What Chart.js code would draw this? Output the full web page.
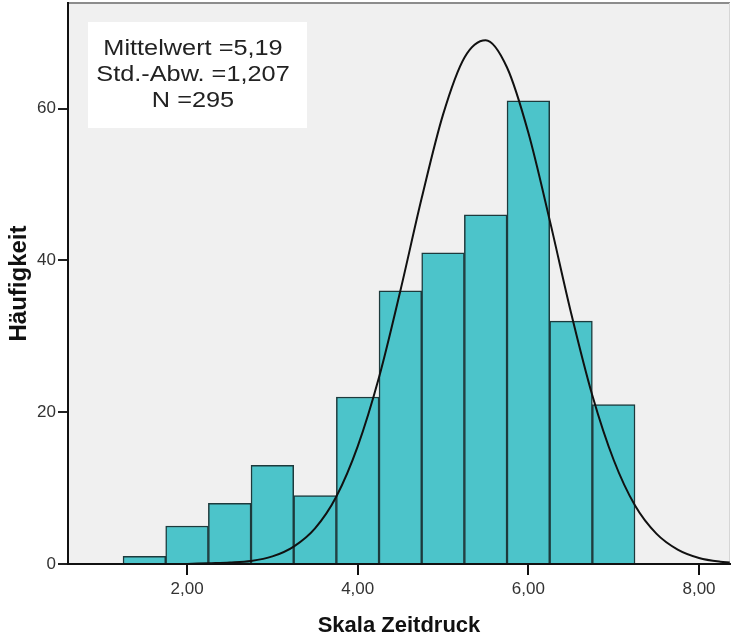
<!DOCTYPE html>
<html>
<head>
<meta charset="utf-8">
<script src="https://cdn.jsdelivr.net/npm/chart.js@4/dist/chart.umd.min.js"></script>
<style>
  html, body { margin: 0; padding: 0; background: #fff; }
  #wrap { width: 732px; height: 637px; }
</style>
</head>
<body>
<div id="wrap"><canvas id="chart" width="732" height="637"></canvas></div>
<script>
// histogram bins (centres, width 0,5) and counts
const binCenters = [1.5, 2.0, 2.5, 3.0, 3.5, 4.0, 4.5, 5.0, 5.5, 6.0, 6.5, 7.0];
const counts = [1, 5, 8, 13, 9, 22, 36, 41, 46, 61, 32, 21];

// normal curve, points
const curveX = [2.0, 2.25, 2.5, 2.75, 3.0, 3.25, 3.5, 3.75, 4.0, 4.25, 4.5, 4.75, 5.0, 5.25, 5.5, 5.75, 6.0, 6.25, 6.5, 6.75, 7.0, 7.25, 7.5, 7.75, 8.0, 8.25, 8.36];
const curveY = [0.0, 0.1, 0.2, 0.4, 1.0, 2.3, 4.7, 8.9, 15.5, 24.6, 36.0, 48.2, 59.2, 66.7, 69.0, 65.4, 56.8, 45.3, 33.1, 22.2, 13.7, 7.7, 4.0, 1.9, 0.8, 0.3, 0.2];

const xTicks = [2, 4, 6, 8];
const yTicks = [0, 20, 40, 60];
const statLines = ['Mittelwert =5,19', 'Std.-Abw. =1,207', 'N =295'];

const fmt = (v) => v.toFixed(2).replace('.', ',');

// grey plot background + frame
const plotFrame = {
  id: 'plotFrame',
  beforeDraw(chart) {
    const { ctx, chartArea: a } = chart;
    ctx.save();
    ctx.fillStyle = '#f0f0f0';
    ctx.fillRect(a.left, a.top, a.right - a.left, a.bottom - a.top);
    ctx.strokeStyle = '#8c8c8c';
    ctx.lineWidth = 2;
    ctx.beginPath();
    ctx.moveTo(a.left, a.top);
    ctx.lineTo(a.right, a.top);
    ctx.stroke();
    ctx.strokeStyle = '#d6d6d6';
    ctx.lineWidth = 1;
    ctx.beginPath();
    ctx.moveTo(a.right - 0.5, a.top);
    ctx.lineTo(a.right - 0.5, a.bottom);
    ctx.stroke();
    ctx.restore();
  },
};

// x tick marks + white stats box top left
const statsBox = {
  id: 'statsBox',
  afterDraw(chart) {
    const { ctx, chartArea: a } = chart;
    const xs = chart.scales.x;
    ctx.save();
    ctx.fillStyle = '#111';
    xTicks.forEach((v) => {
      const px = Math.round(xs.getPixelForValue(v));
      ctx.fillRect(px - 1, xs.top, 2, 11);
    });

    const x = a.left + 20, y = a.top + 19, w = 219, h = 106;
    ctx.fillStyle = '#ffffff';
    ctx.fillRect(x, y, w, h);
    ctx.fillStyle = '#222';
    ctx.font = '22px "Liberation Sans", Arial, sans-serif';
    ctx.textAlign = 'center';
    ctx.textBaseline = 'alphabetic';
    const cx = a.left + 125;
    statLines.forEach((t, i) => {
      ctx.save();
      ctx.translate(cx, a.top + 52 + i * 26);
      ctx.scale(1.15, 1);
      ctx.fillText(t, 0, 0);
      ctx.restore();
    });
    ctx.restore();
  },
};

const noPad = (s) => {
  s.paddingTop = 0;
  s.paddingBottom = 0;
  s.paddingLeft = 0;
  s.paddingRight = 0;
};

const barData = binCenters.map((x, i) => ({ x, y: counts[i] }));
const lineData = curveX.map((x, i) => ({ x, y: curveY[i] }));

new Chart(document.getElementById('chart'), {
  type: 'bar',
  data: {
    datasets: [
      {
        type: 'line',
        data: lineData,
        borderColor: '#111',
        borderWidth: 2,
        pointRadius: 0,
        cubicInterpolationMode: 'monotone',
        fill: false,
        order: 0,
      },
      {
        type: 'bar',
        data: barData,
        backgroundColor: '#4cc4ca',
        borderColor: '#1d3a3c',
        borderWidth: 1.5,
        barPercentage: 1,
        categoryPercentage: 1,
        order: 1,
      },
    ],
  },
  options: {
    responsive: false,
    animation: false,
    layout: { padding: { top: 3, right: 2, left: 0, bottom: 0 } },
    plugins: { legend: { display: false }, tooltip: { enabled: false } },
    scales: {
      x: {
        type: 'linear',
        offset: false,
        min: 0.605,
        max: 8.363,
        afterFit: (s) => { s.height = 73; noPad(s); },
        afterBuildTicks: (s) => { s.ticks = xTicks.map((v) => ({ value: v })); },
        ticks: {
          callback: (v) => fmt(v),
          color: '#333',
          font: { family: '"Liberation Sans", Arial, sans-serif', size: 17 },
          padding: 5,
          maxRotation: 0,
        },
        grid: { display: false, tickLength: 10 },
        border: { display: true, color: '#111', width: 2 },
        title: {
          display: true,
          text: 'Skala Zeitdruck',
          color: '#111',
          font: { family: '"Liberation Sans", Arial, sans-serif', size: 22, weight: 'bold', lineHeight: 1 },
          padding: { top: 0, bottom: 0 },
        },
      },
      y: {
        min: 0,
        max: 73.9,
        afterFit: (s) => { s.width = 68; noPad(s); },
        afterBuildTicks: (s) => { s.ticks = yTicks.map((v) => ({ value: v })); },
        ticks: {
          color: '#333',
          font: { family: '"Liberation Sans", Arial, sans-serif', size: 17 },
          padding: 2,
        },
        grid: { drawOnChartArea: false, drawTicks: true, tickLength: 10, color: '#222', lineWidth: 2 },
        border: { display: true, color: '#111', width: 2 },
        title: {
          display: true,
          text: 'Häufigkeit',
          color: '#111',
          font: { family: '"Liberation Sans", Arial, sans-serif', size: 24, weight: 'bold', lineHeight: 1 },
          padding: { top: 7, bottom: 0 },
        },
      },
    },
  },
  plugins: [plotFrame, statsBox],
});
</script>
</body>
</html>
